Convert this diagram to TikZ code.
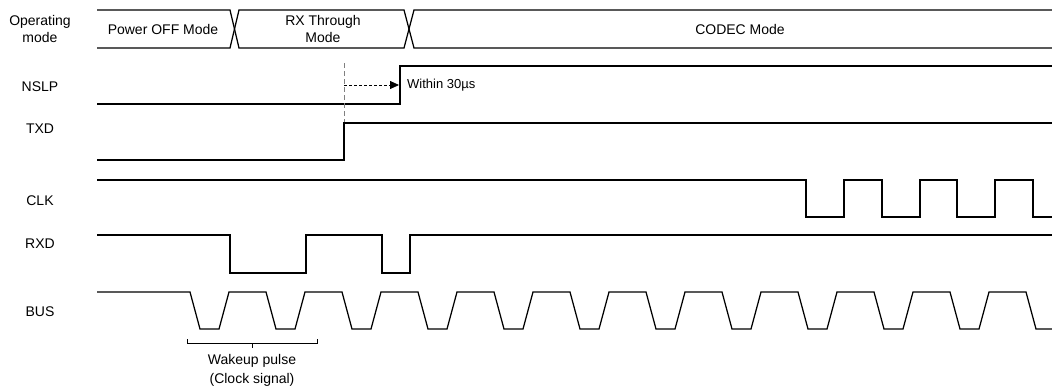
\documentclass[tikz,border=0pt]{standalone}
\usepackage{fontspec}
\setmainfont{Liberation Sans}
\usetikzlibrary{arrows.meta}
\begin{document}
\begin{tikzpicture}[
 x=1pt,y=-1pt,
 wave/.style={line width=1.25pt},
 bar/.style={line width=1.25pt},
 guide/.style={gray,line width=.8pt,dash pattern=on 5pt off 3pt},
 every node/.style={font=\fontsize{14}{17}\selectfont,inner sep=0pt,align=center}]
 \useasboundingbox (0,0) rectangle (1052,391);
 % Signal names.
 \node (lmode) at (40,28.5){Operating\\mode};
 \node (lnslp) at (40,87){NSLP};
 \node (ltxd) at (40,129){TXD};
 \node (lclk) at (40,201){CLK};
 \node (lrxd) at (40,244){RXD};
 \node (lbus) at (40,312){BUS};
 % Operating mode bar.
 \draw[bar] (97,10)--(230,10)--(239,48)--(404,48)--(414,10)--(1052,10);
 \draw[bar] (97,48)--(230,48)--(239,10)--(404,10)--(414,48)--(1052,48);
 \node (off) at (163,29){Power OFF Mode};
 \node (rx) at (323,28.5){RX Through\\Mode};
 \node (codec) at (740,29){CODEC Mode};
 % NSLP, with the delay after TXD.
 \draw[wave] (97,104)--(400,104)--(400,66)--(1052,66);
 \coordinate (txdup) at (344,63); \coordinate (txdhi) at (344,123);
 \draw[guide] (txdup)--(txdhi);
 \coordinate (go) at (344,85); \coordinate (up) at (399,85);
 \draw[line width=.8pt,dash pattern=on 3pt off 2pt,-{Triangle[length=9pt,width=8pt]}] (go)--(up);
 \node[anchor=west,font=\fontsize{13}{15}\selectfont] (within) at (407,85){Within 30µs};
 % TXD.
 \draw[wave] (97,160)--(344,160)--(344,123)--(1052,123);
 % CLK.
 \draw[wave] (97,180)
  \foreach \t in {806,882,957}{--(\t,180)--(\t,217)--(\t+38,217)--(\t+38,180)}
  --(1033,180)--(1033,217)--(1052,217);
 % RXD.
 \draw[wave] (97,235)--(230,235)--(230,273)--(306,273)--(306,235)
  --(382,235)--(382,273)--(410,273)--(410,235)--(1052,235);
 % BUS: trapezoid pulses.
 \draw[wave] (97,292)
  \foreach \i in {0,...,10}{--(190+76*\i,292)--(200+76*\i,329)--(219+76*\i,329)--(229+76*\i,292)}
  --(1026,292)--(1036,329)--(1052,329);
 % Wakeup pulse bracket.
 \draw[line width=1pt] (187,339)--(187,343)--(317,343)--(317,339) (252,343)--(252,348);
 \node[font=\fontsize{14}{19}\selectfont] (wake) at (252,370){Wakeup pulse\\(Clock signal)};
\end{tikzpicture}
\end{document}
